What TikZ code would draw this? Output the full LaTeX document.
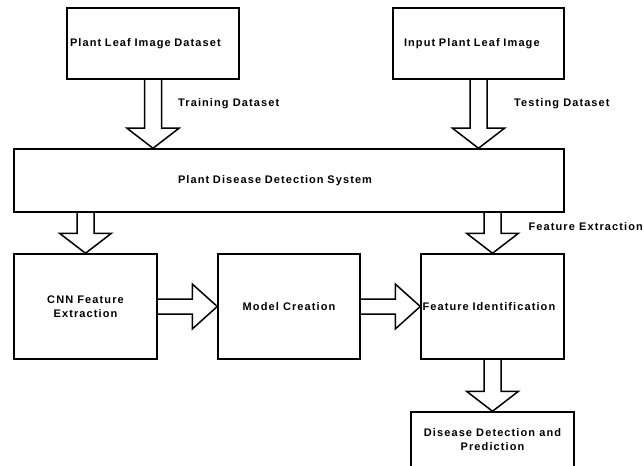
\documentclass[tikz,border=0pt]{standalone}
\usepackage{fontspec}
\usetikzlibrary{calc}
\newfontfamily\diagfont[LetterSpace=10]{Liberation Sans}
\newcommand{\fatdown}[2]{\draw[fat] let \p1=(#1), \p2=(#2) in
	(\x2-8.5pt,\y1) -- (\x2-8.5pt,\y2+20pt) -- (\x2-26pt,\y2+20pt) -- (\x2,\y2)
	-- (\x2+26pt,\y2+20pt) -- (\x2+8.5pt,\y2+20pt) -- (\x2+8.5pt,\y1);}
\newcommand{\fatright}[2]{\draw[fat] let \p1=(#1), \p2=(#2) in
	(\x1,\y2+7.5pt) -- (\x2-25pt,\y2+7.5pt) -- (\x2-25pt,\y2+22.5pt) -- (\x2,\y2)
	-- (\x2-25pt,\y2-22.5pt) -- (\x2-25pt,\y2-7.5pt) -- (\x1,\y2-7.5pt);}
\begin{document}
\begin{tikzpicture}
	[x=1pt,y=-1pt,
	box/.style={draw,line width=1.5pt,inner sep=3pt,
		font=\diagfont\fontsize{11}{14}\selectfont\bfseries,align=center},
	tag/.style={anchor=west,inner sep=0pt,
		font=\diagfont\fontsize{11}{14}\selectfont\bfseries},
	fat/.style={line width=1.5pt,line join=miter}]
	\useasboundingbox (0,0) rectangle (644,465);
	\clip (0,0) rectangle (644,465);
	\node[box,minimum height=71pt,text width=166pt,align=left] (leafset) at (153,43.5) {Plant Leaf Image Dataset};
	\node[box,minimum height=71pt,inner xsep=11pt,text width=149pt,align=left] (leafin) at (478.5,43.5) {Input Plant Leaf Image};
	\node[box,minimum height=63pt,inner xsep=164pt,text width=222pt,align=left] (system) at (289,180.5) {Plant Disease Detection System};
	\node[box,minimum width=143pt,minimum height=105pt] (cnn) at (85.5,306.5) {CNN Feature\\Extraction};
	\node[box,minimum width=142pt,minimum height=105pt] (model) at (289,306.5) {Model Creation};
	\node[box,minimum height=105pt,inner xsep=1.5pt,text width=140pt,align=left] (featid) at (492.5,306.5) {Feature Identification};
	\node[box,minimum width=163pt,minimum height=56pt,inner sep=0pt] (disease) at (492.5,440) {Disease Detection and\\Prediction};
	\node[tag] (train) at (178,104) {Training Dataset};
	\node[tag] (test) at (514,104) {Testing Dataset};
	\node[tag,anchor=east] (extract) at (643,227) {Feature Extraction};
	\fatdown{leafset.south}{system.north -| leafset.south}
	\fatdown{leafin.south}{system.north -| leafin.south}
	\fatdown{system.south -| cnn.north}{cnn.north}
	\fatdown{system.south -| featid.north}{featid.north}
	\fatdown{featid.south}{disease.north}
	\fatright{cnn.east}{model.west}
	\fatright{model.east}{featid.west}
\end{tikzpicture}
\end{document}
